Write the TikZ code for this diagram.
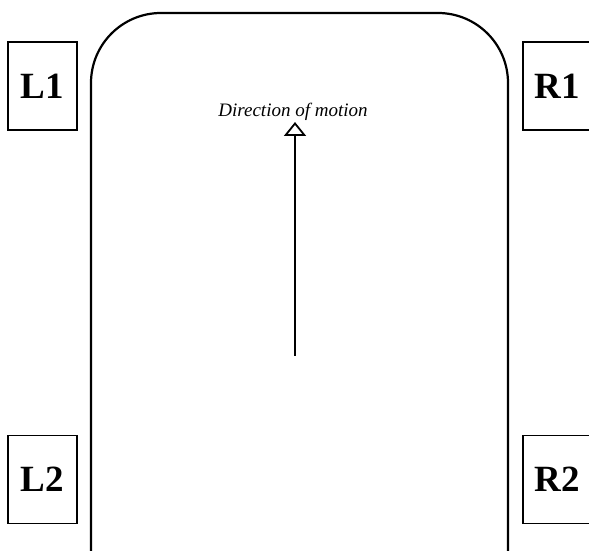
\documentclass[tikz,border=0pt]{standalone}
\usepackage{fontspec}
\setmainfont{Liberation Serif}
\usetikzlibrary{arrows.meta}
\begin{document}
\begin{tikzpicture}[x=1pt,y=1pt,
  wheel/.style={draw=black,line width=1.6pt,minimum width=69pt,minimum height=88pt,
    inner sep=0pt,font=\fontsize{37}{37}\selectfont\bfseries},
  body/.style={draw=black,line width=2.2pt,rounded corners=70pt},
  motion/.style={line width=2pt,-{Triangle[open,width=22pt,length=14pt,line width=1.8pt]}}]
  \useasboundingbox (0,0) rectangle (589,551);
  \clip (0,0) rectangle (589,551);
  \fill[white] (0,0) rectangle (589,551);
  % chassis outline, open at the bottom
  \draw[body] (91,-20) -- (91,538) -- (508,538) -- (508,-20);
  % wheels
  \node[wheel] (L1) at (42.5,465) {L1};
  \node[wheel] (R1) at (557.5,465) {R1};
  \node[wheel] (L2) at (42.5,71.5) {L2};
  \node[wheel] (R2) at (557.5,71.5) {R2};
  % direction arrow
  \coordinate (tail) at (295,195);
  \coordinate (head) at (295,429);
  \draw[motion] (tail) -- (head);
  \node[font=\fontsize{19}{19}\selectfont\itshape,anchor=base,inner sep=0pt] (dir) at (293,434) {Direction of motion};
\end{tikzpicture}
\end{document}
